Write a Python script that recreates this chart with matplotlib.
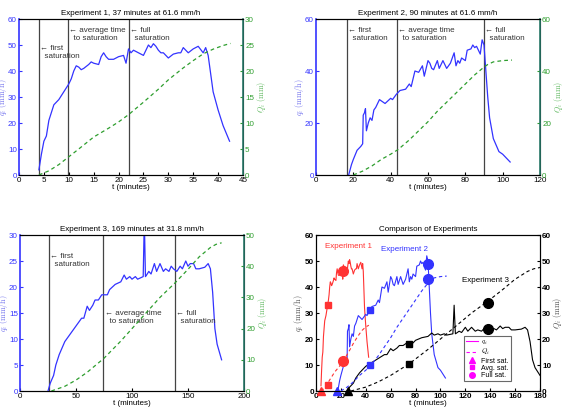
import matplotlib
matplotlib.use("Agg")
import matplotlib.pyplot as plt
from matplotlib.lines import Line2D

plt.rcParams["font.family"] = ["Liberation Sans", "DejaVu Sans"]
plt.rcParams["mathtext.fontset"] = "cm"

# Experiment 1
t1 = [4, 4.5, 5, 5.5, 6, 7, 8, 9, 10, 10.5, 11, 11.5, 12, 12.5, 13, 14, 14.5, 15, 16, 16.5,
      17, 17.5, 18, 19, 20, 21, 21.5, 22, 22.5, 23, 24, 25, 26, 26.5, 27, 27.5, 28, 28.5, 29, 30,
      31, 32, 32.5, 33, 34, 35, 36, 37, 37.5, 38, 38.5, 39, 40, 41, 42.3]
q1 = [2, 8, 13, 15, 21, 27, 29, 32, 35, 37, 40, 42, 41.5, 40.5, 41, 42.5, 43.5, 43, 42.5, 45.5,
      47, 45.5, 44.5, 44.5, 45.5, 46, 43, 48.5, 47, 48, 47, 46, 50, 49, 50.5, 49.5, 48, 47, 47, 45,
      46.5, 47, 47, 49, 47, 48.5, 49.5, 47, 49, 46, 39, 32, 25, 19, 13]
tQ1 = [4, 6, 8, 10, 12, 15, 18, 20, 22, 25, 28, 30, 33, 35, 37, 39, 41, 42.5]
Q1 = [0, 0.8, 2, 3.5, 5, 7.3, 9, 10.2, 11.6, 14, 16.5, 18.3, 20.6, 22, 23.3, 24.2, 24.9, 25.3]

# Experiment 2
t2 = [17.5, 19, 20, 22, 24, 25, 25.3, 26, 26.5, 27, 28, 29, 30, 31, 32, 34, 36, 37, 40, 41,
      43, 45, 48, 50, 51, 53, 55, 57, 58, 60, 61, 62, 63, 65, 66, 68, 70, 72, 74, 75,
      76, 77, 78, 80, 81, 83, 84, 85, 86, 87, 88, 89, 90, 91, 92, 93, 95, 98, 100, 104]
q2 = [0, 4, 6, 9.5, 11, 12, 23, 24, 25.5, 17, 20, 22, 21, 25, 26, 29, 28, 27.5, 29.5, 29,
      31, 32.5, 33, 35, 34, 40, 39.5, 42, 38, 44, 43, 41, 40.5, 44, 41, 44, 41, 43, 47, 42,
      44, 43, 45, 44, 48, 48.5, 50, 49, 49.5, 48, 46.5, 52, 50, 40, 30, 22, 14, 9, 8, 5]
tQ2 = [20, 25, 30, 35, 40, 44, 50, 55, 60, 65, 70, 75, 80, 85, 90, 92, 95, 100, 105]
Q2 = [0, 1.5, 3.5, 6, 8, 9.8, 13.5, 17, 20.5, 24.5, 28, 31.5, 35, 38.5, 41.5, 42.5, 43.5, 44, 44.2]

# Experiment 3
t3 = [25, 27, 30, 32, 35, 40, 45, 50, 55, 57, 60, 62, 65, 67, 70, 73, 75, 78, 80, 85,
      90, 93, 95, 98, 100, 103, 105, 108, 110, 111, 112, 113, 115, 117, 120, 122, 125, 128, 130, 133,
      135, 137, 140, 143, 145, 148, 150, 152, 155, 157, 160, 165, 168, 170, 172, 174, 176, 178, 180]
q3 = [0, 1.5, 3, 5, 7, 9.5, 11, 12.5, 14, 14, 16.3, 15.5, 16.5, 17.5, 17.5, 18.5, 18.5, 18.5, 19.5, 20.5,
      21, 22.3, 21.5, 22, 21.5, 22, 21.5, 21.8, 22, 33, 22, 22.3, 23, 22.5, 24.5, 23, 24.5, 23, 23.5, 23,
      24, 23.5, 23, 24, 23.5, 25, 24, 24.5, 24.5, 23.5, 23.5, 23.8, 24.5, 23.5, 19, 12, 9, 7.5, 6]
tQ3 = [28, 40, 50, 60, 75, 90, 100, 110, 125, 138, 150, 160, 170, 175, 180]
Q3 = [0, 1.5, 3.5, 6, 10.5, 16, 20, 24, 30, 34.5, 39, 43, 46, 47, 47.5]

# saturation times and marker values
first_t = [4, 16.5, 25.5]
avg_t = [9.8, 43.5, 74.5]
full_t = [22, 90, 138.5]
avg_q = [33, 31, 18]
avg_Q = [2.5, 10, 10.5]
full_q = [46, 49, 24]
full_Q = [11.5, 43, 34]

titles = ["Experiment 1, 37 minutes at 61.6 mm/h",
          "Experiment 2, 90 minutes at 61.6 mm/h",
          "Experiment 3, 169 minutes at 31.8 mm/h"]

FS = 5.8
QCOL = "#3333ff"
GCOL = "#2e9e2e"

fig = plt.figure(figsize=(5.62, 4.08), dpi=100)

boxes = [(19, 19), (316, 19), (20, 235)]
xlims = [(0, 45), (0, 120), (0, 200)]
xticks = [range(0, 46, 5), range(0, 121, 20), range(0, 201, 50)]
qlims = [(0, 60), (0, 60), (0, 30)]
qticks = [range(0, 61, 10), range(0, 61, 20), range(0, 31, 5)]
Qlims = [(0, 30), (0, 60), (0, 50)]
Qticks = [range(0, 31, 5), range(0, 61, 20), range(0, 51, 10)]
# label positions in data coords: (first, avg, full)
first_y = [50, 57, 26.5]
avg_y = [57, 57, 15.5]
full_y = [57, 57, 15.5]

data = [(t1, q1, tQ1, Q1), (t2, q2, tQ2, Q2), (t3, q3, tQ3, Q3)]


def make_ax(x0, y0):
    return fig.add_axes([x0 / 562, 1 - (y0 + 156) / 408, 224 / 562, 156 / 408])


for i, (tt, qq, tQ, QQ) in enumerate(data):
    ax = make_ax(*boxes[i])
    ax2 = ax.twinx()
    ax.plot(tt, qq, color=QCOL, lw=0.9, zorder=3)
    ax2.plot(tQ, QQ, color=GCOL, lw=0.9, ls=(0, (3, 2.5)))
    for tv in (first_t[i], avg_t[i], full_t[i]):
        ax.axvline(tv, color="#444444", lw=0.9)
    ax.set_xlim(*xlims[i])
    ax.set_ylim(*qlims[i])
    ax2.set_ylim(*Qlims[i])
    ax.set_xticks(list(xticks[i]))
    ax.set_yticks(list(qticks[i]))
    ax2.set_yticks(list(Qticks[i]))
    ax.tick_params(direction="in", labelsize=FS, length=2, pad=1.5)
    ax.tick_params(axis="y", colors=QCOL)
    ax.tick_params(axis="x", colors="black")
    ax2.tick_params(direction="in", labelsize=FS, length=2, pad=1.5, colors=GCOL)
    ax.spines["left"].set_color(QCOL)
    ax.spines["left"].set_linewidth(1.2)
    ax2.spines["left"].set_visible(False)
    ax2.spines["right"].set_color("#2a7a6a")
    ax2.spines["right"].set_linewidth(1.2)
    ax.set_title(titles[i], fontsize=FS, pad=3)
    ax.set_xlabel("t (minutes)", fontsize=FS, labelpad=0)
    ax.set_ylabel(r"$q_i\ (\mathrm{mm/h})$", fontsize=FS, color="#7777ee", labelpad=-0.5)
    ax2.set_ylabel(r"$Q_i\ (\mathrm{mm})$", fontsize=FS, color="#66bb66", labelpad=1)
    span = xlims[i][1] - xlims[i][0]
    dx = 0.005 * span
    ax.text(first_t[i] + dx, first_y[i], "\u2190 first\n  saturation", fontsize=FS,
            va="top", ha="left", color="#333333")
    ax.text(avg_t[i] + dx, avg_y[i], "\u2190 average time\n  to saturation", fontsize=FS,
            va="top", ha="left", color="#333333")
    ax.text(full_t[i] + dx, full_y[i], "\u2190 full\n  saturation", fontsize=FS,
            va="top", ha="left", color="#333333")

# comparison panel
ax = make_ax(316, 235)
ax2 = ax.twinx()
cols = ["#ff3333", "#3333ff", "black"]
for i, (tt, qq, tQ, QQ) in enumerate(data):
    ax.plot(tt, qq, color=cols[i], lw=0.8)
    ax2.plot(tQ, QQ, color=cols[i], lw=0.8, ls=(0, (3, 2.5)))
    ax.plot(first_t[i], 0, marker="^", color=cols[i], ms=6, clip_on=False, zorder=5)
    ax.plot([avg_t[i], avg_t[i]], [avg_q[i], avg_Q[i]], ls="none", marker="s",
            color=cols[i], ms=5, zorder=5)
    ax.plot([full_t[i], full_t[i]], [full_q[i], full_Q[i]], ls="none", marker="o",
            color=cols[i], ms=7, zorder=5)
ax.text(7, 55, "Experiment 1", color=cols[0], fontsize=FS)
ax.text(52, 54, "Experiment 2", color=cols[1], fontsize=FS)
ax.text(117, 42, "Experiment 3", color=cols[2], fontsize=FS)
ax.set_xlim(0, 180)
ax.set_ylim(0, 60)
ax2.set_ylim(0, 60)
ax.set_xticks(range(0, 181, 20))
ax.set_yticks(range(0, 61, 10))
ax2.set_yticks(range(0, 61, 10))
for a in (ax, ax2):
    a.tick_params(direction="in", labelsize=FS, length=2, pad=1.5)
    for lab in a.get_xticklabels() + a.get_yticklabels():
        lab.set_fontweight("bold")
ax.set_title("Comparison of Experiments", fontsize=FS, pad=3)
ax.set_xlabel("t (minutes)", fontsize=FS, labelpad=0)
ax.set_ylabel(r"$q_i\ (\mathrm{mm/h})$", fontsize=FS, color="#555555", labelpad=0)
ax2.set_ylabel(r"$Q_i\ (\mathrm{mm})$", fontsize=FS, color="#555555", labelpad=0)

mag = "#ff00ff"
handles = [
    Line2D([], [], color=mag, lw=0.8),
    Line2D([], [], color=mag, lw=0.8, ls=(0, (3, 2.5))),
    Line2D([], [], color=mag, ls="none", marker="^", ms=4),
    Line2D([], [], color=mag, ls="none", marker="s", ms=3.5),
    Line2D([], [], color=mag, ls="none", marker="o", ms=4),
]
labels = [r"$q_i$", r"$Q_i$", "First sat.", "Avg. sat.", "Full sat."]
leg = ax2.legend(handles, labels, loc="lower right", bbox_to_anchor=(0.885, 0.04),
                 fontsize=5, frameon=True, fancybox=False, edgecolor="#444444",
                 handlelength=1.8, handletextpad=0.4, labelspacing=0.05,
                 borderpad=0.3)
leg.get_frame().set_linewidth(0.8)

fig.savefig("out.png", dpi=100)
